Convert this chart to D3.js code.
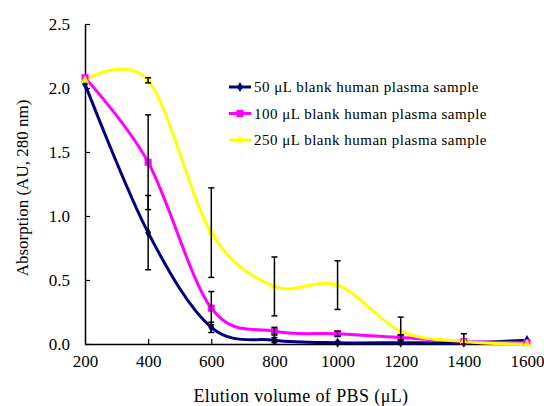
<!DOCTYPE html>
<html>
<head>
<meta charset="utf-8">
<script src="https://cdn.jsdelivr.net/npm/d3@7"></script>
<style>
  body { margin: 0; background: #fff; }
  text { font-family: "Liberation Serif", "DejaVu Serif", serif; fill: #000; }
</style>
</head>
<body>
<svg id="chart" width="544" height="406"></svg>
<script>
// values
var volumes = [200, 400, 600, 800, 1000, 1200, 1400, 1600];
var s50  = [2.03, 0.87, 0.13, 0.03, 0.01, 0.01, 0.01, 0.03];
var s100 = [2.08, 1.42, 0.28, 0.10, 0.08, 0.05, 0.02, 0.01];
var s250 = [2.06, 2.06, 0.87, 0.45, 0.46, 0.10, 0.02, 0.00];
var err50  = [0, 0.29, 0.04, 0.02, 0.01, 0, 0, 0];
var err100 = [0, 0.37, 0.13, 0.03, 0.02, 0.02, 0, 0];
var err250 = [0, 0.02, 0.35, 0.23, 0.19, 0.11, 0.06, 0];
var names = ["50 \u03bcL blank human plasma sample",
             "100 \u03bcL blank human plasma sample",
             "250 \u03bcL blank human plasma sample"];
var colors = ["#000080", "#ff00ff", "#ffff00"];
var yTicks = [0, 0.5, 1.0, 1.5, 2.0, 2.5];

var series = [
  {name: names[0], values: s50, err: err50, color: colors[0], marker: "diamond"},
  {name: names[1], values: s100, err: err100, color: colors[1], marker: "square"},
  {name: names[2], values: s250, err: err250, color: colors[2], marker: "triangle"}
];

var svg = d3.select("#chart");
var x = d3.scaleLinear().domain([200, 1600]).range([85, 527]);
var y = d3.scaleLinear().domain([0, 2.5]).range([344, 24]);

// axes (ticks inside, like the original)
var xAxis = svg.append("g").attr("transform", "translate(0,344)")
  .call(d3.axisBottom(x).tickValues(volumes).tickFormat(d3.format("d"))
    .tickSizeInner(-5).tickSizeOuter(0).tickPadding(11));
var yAxis = svg.append("g").attr("transform", "translate(85,0)")
  .call(d3.axisLeft(y).tickValues(yTicks).tickFormat(d3.format(".1f"))
    .tickSizeInner(-5).tickSizeOuter(0).tickPadding(15));
[xAxis, yAxis].forEach(function(a) {
  a.select(".domain").attr("stroke", "#000").attr("stroke-width", 1.5);
  a.selectAll(".tick line").attr("stroke", "#000").attr("stroke-width", 1.2);
  a.selectAll(".tick text").style("font-size", "17px").attr("font-family", null);
});
yAxis.selectAll(".tick text").attr("dy", "0.35em");

var line = d3.line()
  .x(function(d, i) { return x(volumes[i]); })
  .y(function(d) { return y(d); })
  .curve(d3.curveCardinal.tension(0));

series.forEach(function(s) {
  svg.append("path").datum(s.values)
    .attr("fill", "none")
    .attr("stroke", s.color)
    .attr("stroke-width", 3)
    .attr("d", line);
});

function markerPath(type, size) {
  var sym = type === "square" ? d3.symbolSquare : type === "triangle" ? d3.symbolTriangle : d3.symbolDiamond;
  return d3.symbol().type(sym).size(size)();
}

series.forEach(function(s) {
  svg.append("g").selectAll("path").data(s.values).enter().append("path")
    .attr("transform", function(d, i) { return "translate(" + x(volumes[i]) + "," + y(d) + ")"; })
    .attr("d", markerPath(s.marker, s.marker === "square" ? 50 : 30))
    .attr("fill", s.color);
});

// error bars
series.forEach(function(s) {
  var g = svg.append("g").attr("stroke", "#000").attr("stroke-width", 1.5);
  s.values.forEach(function(v, i) {
    var e = s.err[i];
    if (!e) return;
    var cx = x(volumes[i]), top = y(v + e), bot = y(Math.max(0, v - e));
    g.append("line").attr("x1", cx).attr("x2", cx).attr("y1", top).attr("y2", bot);
    g.append("line").attr("x1", cx - 3).attr("x2", cx + 3).attr("y1", top).attr("y2", top);
    g.append("line").attr("x1", cx - 3).attr("x2", cx + 3).attr("y1", bot).attr("y2", bot);
  });
});

// legend
var legend = svg.append("g");
series.forEach(function(s, i) {
  var ly = 87 + i * 26.5;
  legend.append("line").attr("x1", 229).attr("x2", 251).attr("y1", ly).attr("y2", ly)
    .attr("stroke", s.color).attr("stroke-width", 3);
  legend.append("path").attr("transform", "translate(240," + ly + ")")
    .attr("d", markerPath(s.marker, s.marker === "square" ? 50 : 30)).attr("fill", s.color);
  legend.append("text").attr("x", 254).attr("y", ly).attr("dy", "0.35em")
    .style("font-size", "15px").style("letter-spacing", "0.5px").text(s.name);
});

// axis titles
svg.append("text").attr("x", 301).attr("y", 402).attr("text-anchor", "middle")
  .style("font-size", "18px").style("letter-spacing", "0.4px").text("Elution volume of PBS (\u03bcL)");
svg.append("text").attr("transform", "translate(28,188) rotate(-90)").attr("text-anchor", "middle")
  .style("font-size", "17px").text("Absorption (AU, 280 nm)");
</script>
</body>
</html>
